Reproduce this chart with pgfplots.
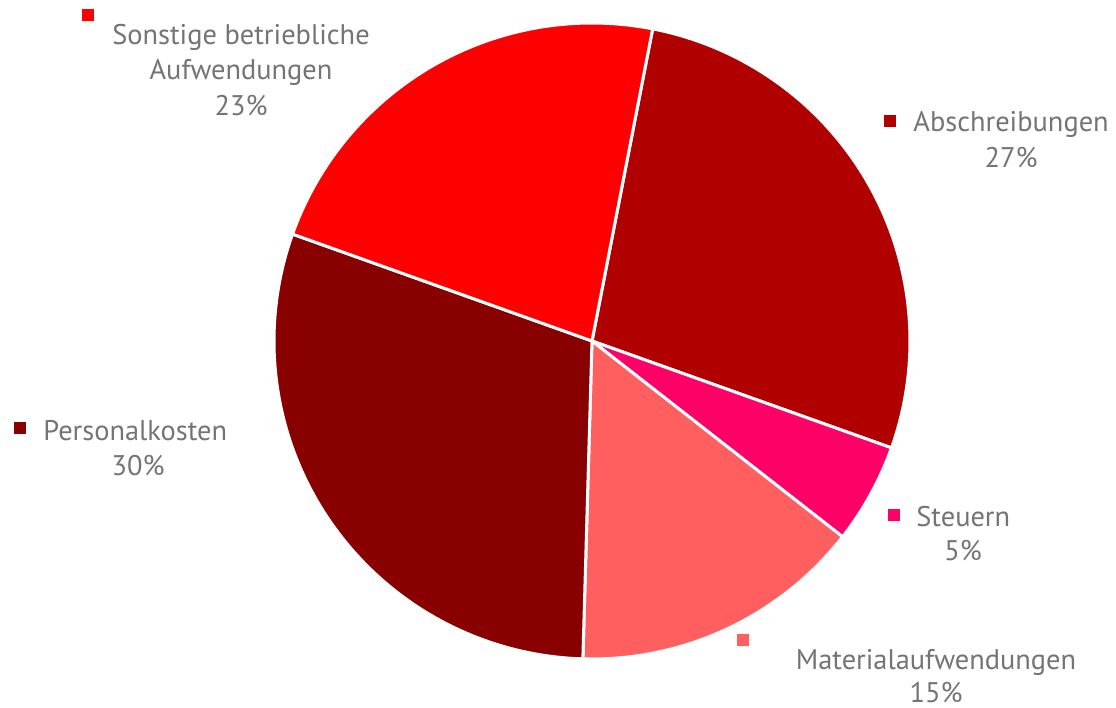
\documentclass[border=0pt]{standalone}
\usepackage{fontspec}
\setmainfont{PT Sans}
\usepackage{pgfplots}
\pgfplotsset{compat=1.18}
\usepgfplotslibrary{polar}
\definecolor{cSon}{HTML}{FF0000}
\definecolor{cAbs}{HTML}{B00000}
\definecolor{cSte}{HTML}{FF0066}
\definecolor{cMat}{HTML}{FF5F5F}
\definecolor{cPer}{HTML}{880000}
\definecolor{txt}{HTML}{747474}
% shares in percent, clockwise from the top
\def\vAbs{27.4}
\def\vSte{5.1}
\def\vMat{14.9}
\def\vPer{30.0}
\def\vSon{22.6}
\pgfmathsetmacro\aZero{79}
\pgfmathsetmacro\aAbs{\aZero-3.6*\vAbs}
\pgfmathsetmacro\aSte{\aAbs-3.6*\vSte}
\pgfmathsetmacro\aMat{\aSte-3.6*\vMat}
\pgfmathsetmacro\aPer{\aMat-3.6*\vPer}
\pgfmathsetmacro\aSon{\aPer-3.6*\vSon}
\begin{document}
\begin{tikzpicture}
\useasboundingbox (0,0) rectangle (558pt,354pt);
\begin{polaraxis}[
  at={(296pt,183.5pt)}, anchor=center,
  scale only axis, width=318pt, height=318pt,
  ymin=0, ymax=1, hide axis, clip=false]
\addplot[fill=cAbs, draw=white, line width=1.5pt, domain=\aAbs:\aZero, samples=80] {1} -- (axis cs:0,0) -- cycle;
\addplot[fill=cSte, draw=white, line width=1.5pt, domain=\aSte:\aAbs, samples=20] {1} -- (axis cs:0,0) -- cycle;
\addplot[fill=cMat, draw=white, line width=1.5pt, domain=\aMat:\aSte, samples=50] {1} -- (axis cs:0,0) -- cycle;
\addplot[fill=cPer, draw=white, line width=1.5pt, domain=\aPer:\aMat, samples=90] {1} -- (axis cs:0,0) -- cycle;
\addplot[fill=cSon, draw=white, line width=1.5pt, domain=\aSon:\aPer, samples=70] {1} -- (axis cs:0,0) -- cycle;
\end{polaraxis}
\begin{scope}[font=\fontsize{14.2}{17}\selectfont, text=txt, inner sep=0pt]
% Sonstige
\fill[cSon] (41pt,349.5pt) rectangle +(6pt,-6pt);
\node at (120.5pt,335.5pt) {Sonstige betriebliche};
\node at (120.5pt,318pt) {Aufwendungen};
\node at (120.5pt,301pt) {23\%};
% Abschreibungen
\fill[cAbs] (442pt,296.5pt) rectangle +(6pt,-6pt);
\node[anchor=west] at (456.5pt,292pt) {Abschreibungen};
\node at (505.5pt,275pt) {27\%};
% Steuern
\fill[cSte] (444pt,99.5pt) rectangle +(6pt,-6pt);
\node[anchor=west] at (458pt,95.5pt) {Steuern};
\node at (481.5pt,78.5pt) {5\%};
% Material
\fill[cMat] (368.5pt,37pt) rectangle +(6pt,-6pt);
\node at (468pt,23pt) {Materialaufwendungen};
\node at (468pt,7.5pt) {15\%};
% Personal
\fill[cPer] (7pt,143pt) rectangle +(6pt,-6pt);
\node[anchor=west] at (21.5pt,138.5pt) {Personalkosten};
\node at (69pt,121pt) {30\%};
\end{scope}
\end{tikzpicture}
\end{document}
